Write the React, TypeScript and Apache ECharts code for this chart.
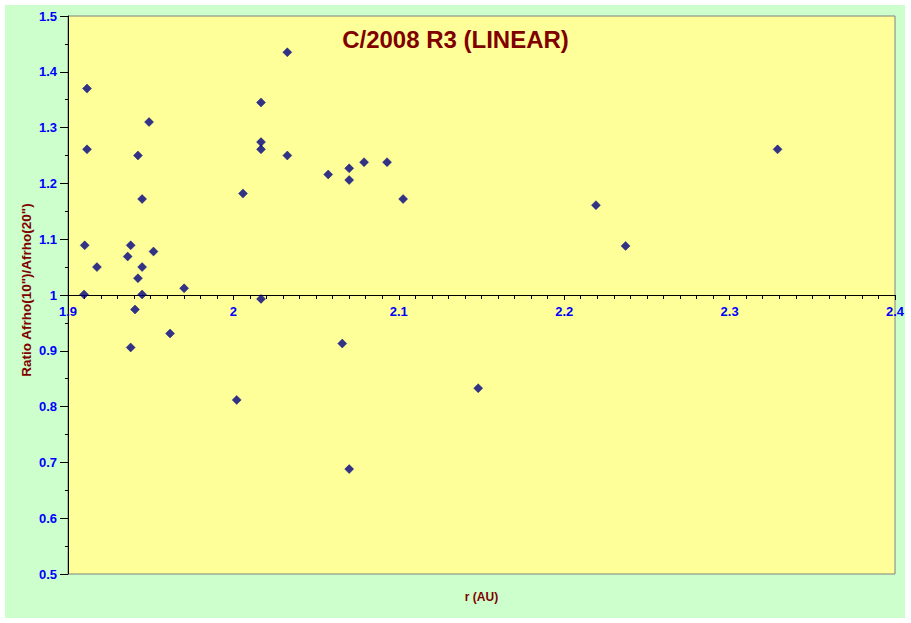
import React, { useEffect, useRef } from "react";
import * as echarts from "echarts";

const titleText = "C/2008 R3 (LINEAR)";
const xAxisTitle = "r (AU)";
const yAxisTitle = 'Ratio Afrho(10")/Afrho(20")';

const rValues = [
  1.9097, 1.9101, 1.9115, 1.9115, 1.9175, 1.9361, 1.9379, 1.9379, 1.9405, 1.9423,
  1.9423, 1.9448, 1.9448, 1.9448, 1.949, 1.9517, 1.9617, 1.9702, 2.002, 2.0058,
  2.0167, 2.0167, 2.0167, 2.0167, 2.0326, 2.0326, 2.0573, 2.0658, 2.07, 2.07,
  2.07, 2.079, 2.0929, 2.1026, 2.148, 2.2192, 2.2371, 2.329,
];
const ratios = [
  1.001, 1.089, 1.37, 1.261, 1.05, 1.069, 1.089, 0.906, 0.974, 1.25,
  1.03, 1.172, 1.05, 1.001, 1.31, 1.078, 0.931, 1.012, 0.812, 1.182,
  1.345, 1.274, 1.261, 0.993, 1.435, 1.25, 1.216, 0.913, 1.227, 1.206,
  0.688, 1.238, 1.238, 1.172, 0.833, 1.161, 1.088, 1.261,
];

const xMin = 1.9;
const xMax = 2.4;
const xStep = 0.1;
const yMin = 0.5;
const yMax = 1.5;
const yStep = 0.1;

export default function App() {
  const ref = useRef<HTMLDivElement>(null);

  useEffect(() => {
    if (!ref.current) return;
    const chart = echarts.init(ref.current, undefined, { renderer: "svg" });
    const points = rValues.map((r, i) => [r, ratios[i]]);
    const gridLeft = 68;
    const gridTop = 16;
    const gridW = 827;
    const gridH = 558;
    chart.setOption({
      animation: false,
      backgroundColor: "#ffffff",
      title: {
        text: titleText,
        left: "center",
        top: 22,
        textStyle: {
          color: "#800000",
          fontFamily: "Liberation Sans, Arial, sans-serif",
          fontWeight: "bold",
          fontSize: 24,
        },
      },
      graphic: [
        {
          type: "rect",
          z: -10,
          silent: true,
          shape: { x: 5, y: 5, width: 900, height: 613 },
          style: { fill: "#ccffcc" },
        },
        {
          type: "text",
          x: 481.5,
          y: 597,
          style: {
            text: xAxisTitle,
            fill: "#800000",
            font: "bold 12px 'Liberation Sans', Arial, sans-serif",
            align: "center",
            verticalAlign: "middle",
          },
        },
        {
          type: "text",
          x: 26,
          y: 290,
          rotation: Math.PI / 2,
          style: {
            text: yAxisTitle,
            fill: "#800000",
            font: "bold 13.5px 'Liberation Sans', Arial, sans-serif",
            align: "center",
            verticalAlign: "middle",
          },
        },
      ],
      grid: {
        left: gridLeft,
        top: gridTop,
        width: gridW,
        height: gridH,
        show: true,
        backgroundColor: "#ffff99",
        borderColor: "#808080",
        borderWidth: 1,
      },
      xAxis: {
        type: "value",
        min: xMin,
        max: xMax,
        interval: xStep,
        position: "bottom",
        offset: -gridH / 2,
        axisLine: { show: true, onZero: false, lineStyle: { color: "#000000", width: 1 } },
        axisTick: { show: true, length: 5, lineStyle: { color: "#000000" } },
        minorTick: { show: true, splitNumber: 10, length: 4, lineStyle: { color: "#000000" } },
        splitLine: { show: false },
        axisLabel: {
          color: "#0000ff",
          fontFamily: "Liberation Sans, Arial, sans-serif",
          fontWeight: "bold",
          fontSize: 13,
          margin: 10,
        },
      },
      yAxis: {
        type: "value",
        min: yMin,
        max: yMax,
        interval: yStep,
        axisLine: { show: true, lineStyle: { color: "#000000", width: 1 } },
        axisTick: { show: true, length: 8, lineStyle: { color: "#000000" } },
        minorTick: { show: true, splitNumber: 2, length: 3, lineStyle: { color: "#000000" } },
        splitLine: { show: false },
        axisLabel: {
          color: "#0000ff",
          fontFamily: "Liberation Sans, Arial, sans-serif",
          fontWeight: "bold",
          fontSize: 13,
          margin: 11,
        },
      },
      series: [
        {
          type: "scatter",
          data: points,
          symbol: "diamond",
          symbolSize: 9,
          itemStyle: { color: "#000080", borderColor: "#000080", borderWidth: 0.5 },
          z: 5,
        },
      ],
    });
    return () => chart.dispose();
  }, []);

  return (
    <div
      ref={ref}
      style={{ position: "fixed", left: 0, top: 0, width: 911, height: 623 }}
    />
  );
}
